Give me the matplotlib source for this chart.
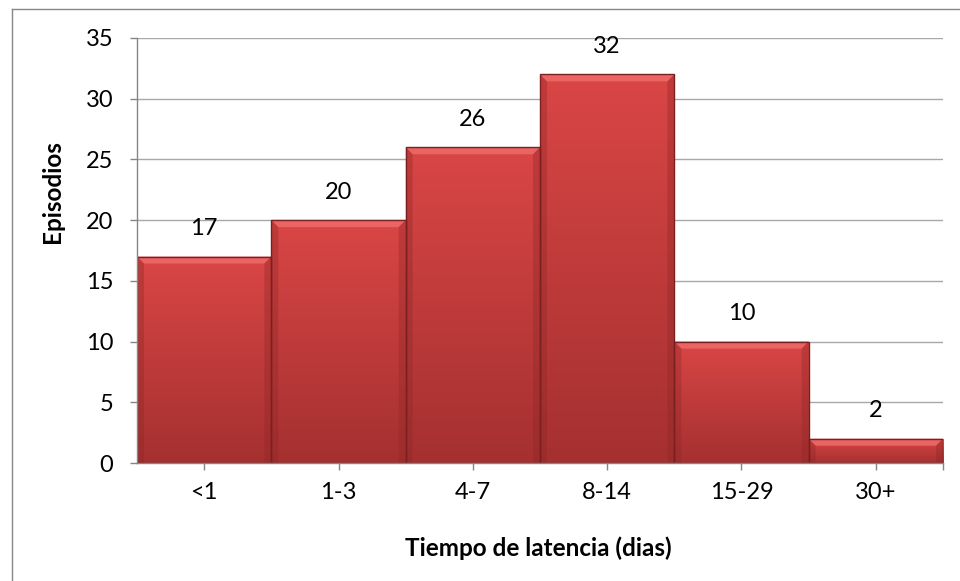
import matplotlib.pyplot as plt
import numpy as np
from matplotlib.colors import LinearSegmentedColormap
from matplotlib.patches import Rectangle, Polygon
from matplotlib.lines import Line2D

categories = ['<1', '1-3', '4-7', '8-14', '15-29', '30+']
episodios = [17, 20, 26, 32, 10, 2]

plt.rcParams['font.family'] = ['Lato', 'DejaVu Sans']

W, H = 960, 581
fig = plt.figure(figsize=(W / 100, H / 100), dpi=100)
ax = fig.add_axes([137 / W, 1 - 463 / H, 806 / W, 425 / H])

# gradient for the bars (lighter top, darker bottom)
cmap = LinearSegmentedColormap.from_list('red', ['#a53030', '#da4646'])
grad = np.linspace(0, 1, 256).reshape(-1, 1)

ax.set_xlim(-0.5, len(categories) - 0.5)
ax.set_ylim(0, 35)

# pixel sizes in data units for the bevel
px_y = 35 / 425
px_x = len(categories) / 806

x = np.arange(len(categories))
bars = ax.bar(x, episodios, width=1.0, color='none', edgecolor='#7a2020',
              linewidth=1.0, zorder=4)
for b, v in zip(bars, episodios):
    bx, by = b.get_x(), b.get_y()
    w, h = b.get_width(), b.get_height()
    im = ax.imshow(grad, cmap=cmap, aspect='auto', origin='lower',
                   extent=[bx, bx + w, by, by + h], zorder=2)
    im.set_clip_path(Rectangle((bx, by), w, h, transform=ax.transData))
    # bevel on top
    bev = min(7 * px_y, h / 2)
    dx = 7 * px_x
    ax.add_patch(Polygon([(bx, h), (bx + w, h), (bx + w - dx, h - bev), (bx + dx, h - bev)],
                         closed=True, facecolor='#ea6464', edgecolor='none', zorder=3))
    ax.add_patch(Polygon([(bx, by), (bx, h), (bx + dx, h - bev), (bx + dx, by)],
                         closed=True, facecolor='#8e2626', edgecolor='none', alpha=0.35, zorder=3))
    ax.add_patch(Polygon([(bx + w, by), (bx + w, h), (bx + w - dx, h - bev), (bx + w - dx, by)],
                         closed=True, facecolor='#8e2626', edgecolor='none', alpha=0.35, zorder=3))
    ax.annotate(str(v), (bx + w / 2, by + h), xytext=(0, 20),
                textcoords='offset points', ha='center', va='center',
                fontsize=17, color='black')

ax.set_yticks(range(0, 36, 5))
ax.set_xticks(list(x) + [len(categories) - 0.5])
ax.set_xticklabels(categories + [''])
ax.tick_params(axis='both', labelsize=17, color='#868686', length=5, width=1)
ax.tick_params(axis='x', pad=9)
ax.tick_params(axis='y', pad=12)

ax.grid(axis='y', color='#a8a8a8', linewidth=1, zorder=0)
ax.set_axisbelow(True)
for s in ['top', 'right']:
    ax.spines[s].set_visible(False)
for s in ['left', 'bottom']:
    ax.spines[s].set_color('#868686')
    ax.spines[s].set_linewidth(1)
    ax.spines[s].set_zorder(5)

fig.text(538 / W, 1 - 548 / H, 'Tiempo de latencia (dias)', fontsize=17.5,
         fontweight='bold', ha='center', va='center')
fig.text(52 / W, 1 - 192 / H, 'Episodios', fontsize=17.5, fontweight='bold',
         rotation=90, ha='center', va='center')

# outer chart border (only top and left edges fall inside the picture)
fig.lines.append(Line2D([12 / W, 12 / W], [0, 1 - 9 / H], transform=fig.transFigure,
                        color='#878787', linewidth=1))
fig.lines.append(Line2D([12 / W, 1], [1 - 9 / H, 1 - 9 / H], transform=fig.transFigure,
                        color='#878787', linewidth=1))

fig.savefig('out.png', dpi=100)
